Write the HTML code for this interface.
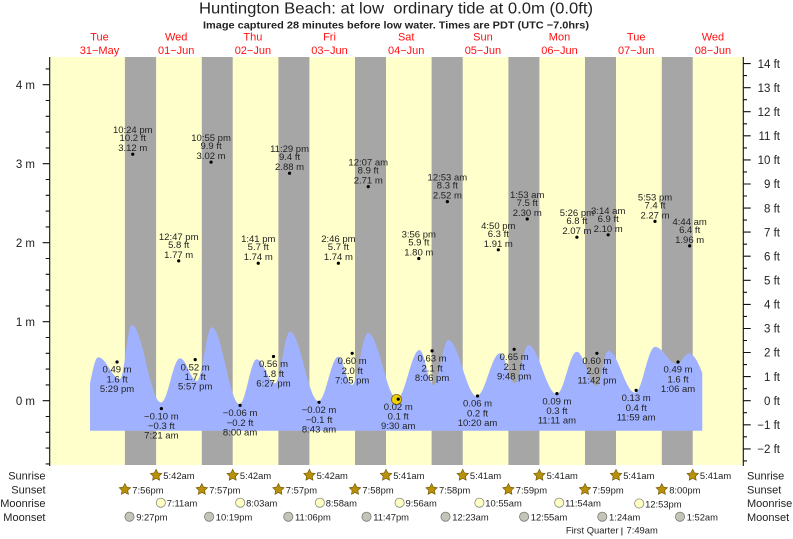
<!DOCTYPE html>
<html><head><meta charset="utf-8"><style>
html,body{margin:0;padding:0;background:#fff;}
svg{display:block;font-family:"Liberation Sans",Arial,sans-serif;}
.t{font-size:9.5px;fill:#222;text-anchor:middle;}
.b{font-size:9.4px;fill:#222;}
.r{font-size:11px;fill:#222;}
.ax{font-size:11.5px;fill:#222;}
.d{font-size:11px;fill:#ff1010;text-anchor:middle;}
</style></head><body>
<svg width="793" height="539" viewBox="0 0 793 539" xmlns="http://www.w3.org/2000/svg">
<defs>
<polygon id="star" points="0,-6 1.76,-2.43 5.71,-1.85 2.85,0.93 3.53,4.85 0,3 -3.53,4.85 -2.85,0.93 -5.71,-1.85 -1.76,-2.43" fill="#b8900a" stroke="#6b5200" stroke-width="0.6"/>
</defs>
<!-- titles -->
<text x="396" y="13.5" text-anchor="middle" font-size="16" fill="#222" textLength="394" lengthAdjust="spacingAndGlyphs" style="white-space:pre">Huntington Beach: at low  ordinary tide at 0.0m (0.0ft)</text>
<text x="396" y="28.5" text-anchor="middle" font-size="10.5" font-weight="bold" fill="#222" textLength="386" lengthAdjust="spacingAndGlyphs">Image captured 28 minutes before low water. Times are PDT (UTC −7.0hrs)</text>
<!-- day labels -->
<g class="d">
<text x="99.5" y="40.7" class="d">Tue</text><text x="99.5" y="54" class="d">31−May</text>
<text x="176.2" y="40.7" class="d">Wed</text><text x="176.2" y="54" class="d">01−Jun</text>
<text x="252.9" y="40.7" class="d">Thu</text><text x="252.9" y="54" class="d">02−Jun</text>
<text x="329.5" y="40.7" class="d">Fri</text><text x="329.5" y="54" class="d">03−Jun</text>
<text x="406.2" y="40.7" class="d">Sat</text><text x="406.2" y="54" class="d">04−Jun</text>
<text x="482.9" y="40.7" class="d">Sun</text><text x="482.9" y="54" class="d">05−Jun</text>
<text x="559.5" y="40.7" class="d">Mon</text><text x="559.5" y="54" class="d">06−Jun</text>
<text x="636.2" y="40.7" class="d">Tue</text><text x="636.2" y="54" class="d">07−Jun</text>
<text x="712.9" y="40.7" class="d">Wed</text><text x="712.9" y="54" class="d">08−Jun</text>
</g>
<!-- plot background -->
<rect x="50" y="57" width="693.3" height="408" fill="#ffffcc"/>
<g fill="#a6a6a6">
<rect x="124.9" y="57" width="31.2" height="408"/>
<rect x="201.8" y="57" width="30.9" height="408"/>
<rect x="278.4" y="57" width="31" height="408"/>
<rect x="355" y="57" width="31" height="408"/>
<rect x="431.6" y="57" width="31.1" height="408"/>
<rect x="508.4" y="57" width="31" height="408"/>
<rect x="585" y="57" width="31" height="408"/>
<rect x="661.8" y="57" width="30.9" height="408"/>
</g>
<!-- tide curve -->
<path fill="#a0b2ff" d="M90,430.7 L90,383.3 C93,370 95,357.3 98.3,357.3 C106.2,357.3 112.1,379 120,379 C124.3,379 127.4,325 131.7,325 C142.4,325 150.3,402.5 161,402.5 C167.9,402.5 173.1,358.3 180,358.3 C186.2,358.3 190.8,381 197,381 C202.4,381 206.4,327.3 211.7,327.3 C221.8,327.3 229.4,404 239.5,404 C245.8,404 250.4,359.3 256.7,359.3 C263.4,359.3 268.3,383.3 275,383.3 C280.5,383.3 284.5,331.7 290,331.7 C300.4,331.7 308.1,401 318.5,401 C325.7,401 331.1,356.7 338.3,356.7 C343.3,356.7 347,385 352,385 C357.8,385 362.2,333 368,333 C378.6,333 386.4,398.5 397,398.5 C405.2,398.5 411.3,350 419.5,350 C424.6,350 428.4,385 433.5,385 C438.9,385 442.9,340 448.3,340 C458.6,340 466.4,396 476.7,396 C485.2,396 491.5,353.3 500,353.3 C505.5,353.3 509.5,383.3 515,383.3 C519.8,383.3 523.5,345 528.3,345 C538.6,345 546.4,394 556.7,394 C564,394 569.4,351.7 576.7,351.7 C584,351.7 589.4,386 596.7,386 C600.9,386 604.1,350.7 608.3,350.7 C618,350.7 625.3,392.7 635,392.7 C642.3,392.7 647.7,346.7 655,346.7 C663,346.7 669,364 677,364 C681.4,364 684.6,353.3 689,353.3 C693,353.3 698.5,362 702.3,373.3 L702.3,430.7 Z"/>
<!-- current time marker -->
<circle cx="396.5" cy="399.5" r="5" fill="#f0d000" stroke="#7a6400" stroke-width="0.8"/>
<!-- axes -->
<g stroke="#111" stroke-width="1.1" fill="none">
<line x1="49.7" y1="57" x2="49.7" y2="466"/>
<line x1="743.3" y1="57" x2="743.3" y2="466"/>
<!-- left major -->
<path d="M42.7,400.7H49.7M42.7,321.7H49.7M42.7,242.7H49.7M42.7,163.7H49.7M42.7,84.7H49.7"/>
<!-- left minor -->
<path d="M45.7,463.9H49.7M45.7,448.1H49.7M45.7,432.3H49.7M45.7,416.5H49.7M45.7,384.9H49.7M45.7,369.1H49.7M45.7,353.3H49.7M45.7,337.5H49.7M45.7,305.9H49.7M45.7,290.1H49.7M45.7,274.3H49.7M45.7,258.5H49.7M45.7,226.9H49.7M45.7,211.1H49.7M45.7,195.3H49.7M45.7,179.5H49.7M45.7,147.9H49.7M45.7,132.1H49.7M45.7,116.3H49.7M45.7,100.5H49.7M45.7,68.9H49.7"/>
<!-- right major -->
<path d="M743.3,448.9H750.7M743.3,424.8H750.7M743.3,400.7H750.7M743.3,376.6H750.7M743.3,352.5H750.7M743.3,328.5H750.7M743.3,304.4H750.7M743.3,280.3H750.7M743.3,256.2H750.7M743.3,232.1H750.7M743.3,208.1H750.7M743.3,184H750.7M743.3,159.9H750.7M743.3,135.8H750.7M743.3,111.7H750.7M743.3,87.7H750.7M743.3,63.6H750.7"/>
<!-- right minor -->
<path d="M743.3,460.9H747M743.3,436.8H747M743.3,412.7H747M743.3,388.7H747M743.3,364.6H747M743.3,340.5H747M743.3,316.4H747M743.3,292.3H747M743.3,268.3H747M743.3,244.2H747M743.3,220.1H747M743.3,196H747M743.3,171.9H747M743.3,147.9H747M743.3,123.8H747M743.3,99.7H747M743.3,75.6H747"/>
</g>
<!-- left labels -->
<g class="ax" text-anchor="end">
<text x="35" y="405">0 m</text>
<text x="35" y="326">1 m</text>
<text x="35" y="247">2 m</text>
<text x="35" y="168">3 m</text>
<text x="35" y="89">4 m</text>
</g>
<!-- right labels -->
<g class="ax" text-anchor="end">
<text x="780" y="453.1">−2 ft</text>
<text x="780" y="429">−1 ft</text>
<text x="780" y="404.9">0 ft</text>
<text x="780" y="380.8">1 ft</text>
<text x="780" y="356.7">2 ft</text>
<text x="780" y="332.7">3 ft</text>
<text x="780" y="308.6">4 ft</text>
<text x="780" y="284.5">5 ft</text>
<text x="780" y="260.4">6 ft</text>
<text x="780" y="236.3">7 ft</text>
<text x="780" y="212.3">8 ft</text>
<text x="780" y="188.2">9 ft</text>
<text x="780" y="164.1">10 ft</text>
<text x="780" y="140">11 ft</text>
<text x="780" y="115.9">12 ft</text>
<text x="780" y="91.9">13 ft</text>
<text x="780" y="67.8">14 ft</text>
</g>
<!-- high labels -->
<g class="t">
<text x="132.75" y="133.2">10:24 pm</text><text x="132.75" y="141.2">10.2 ft</text><text x="132.75" y="151.2">3.12 m</text>
<text x="178.7" y="239.9">12:47 pm</text><text x="178.7" y="247.9">5.8 ft</text><text x="178.7" y="257.9">1.77 m</text>
<text x="211.07" y="141.1">10:55 pm</text><text x="211.07" y="149.1">9.9 ft</text><text x="211.07" y="159.1">3.02 m</text>
<text x="258.24" y="242.2">1:41 pm</text><text x="258.24" y="250.2">5.7 ft</text><text x="258.24" y="260.2">1.74 m</text>
<text x="289.54" y="152.2">11:29 pm</text><text x="289.54" y="160.2">9.4 ft</text><text x="289.54" y="170.2">2.88 m</text>
<text x="338.37" y="242.2">2:46 pm</text><text x="338.37" y="250.2">5.7 ft</text><text x="338.37" y="260.2">1.74 m</text>
<text x="368.24" y="165.6">12:07 am</text><text x="368.24" y="173.6">8.9 ft</text><text x="368.24" y="183.6">2.71 m</text>
<text x="418.77" y="237.5">3:56 pm</text><text x="418.77" y="245.5">5.9 ft</text><text x="418.77" y="255.5">1.80 m</text>
<text x="447.35" y="180.6">12:53 am</text><text x="447.35" y="188.6">8.3 ft</text><text x="447.35" y="198.6">2.52 m</text>
<text x="498.3" y="228.8">4:50 pm</text><text x="498.3" y="236.8">6.3 ft</text><text x="498.3" y="246.8">1.91 m</text>
<text x="527.22" y="198">1:53 am</text><text x="527.22" y="206">7.5 ft</text><text x="527.22" y="216">2.30 m</text>
<text x="576.89" y="216.2">5:26 pm</text><text x="576.89" y="224.2">6.8 ft</text><text x="576.89" y="234.2">2.07 m</text>
<text x="608.2" y="213.8">3:14 am</text><text x="608.2" y="221.8">6.9 ft</text><text x="608.2" y="231.8">2.10 m</text>
<text x="655" y="200.4">5:53 pm</text><text x="655" y="208.4">7.4 ft</text><text x="655" y="218.4">2.27 m</text>
<text x="689.65" y="224.9">4:44 am</text><text x="689.65" y="232.9">6.4 ft</text><text x="689.65" y="242.9">1.96 m</text>
</g>
<!-- low labels -->
<g class="t">
<text x="117.05" y="372.7">0.49 m</text><text x="117.05" y="382.5">1.6 ft</text><text x="117.05" y="392">5:29 pm</text>
<text x="161.35" y="419.3">−0.10 m</text><text x="161.35" y="429.1">−0.3 ft</text><text x="161.35" y="438.6">7:21 am</text>
<text x="195.21" y="370.3">0.52 m</text><text x="195.21" y="380.1">1.7 ft</text><text x="195.21" y="389.6">5:57 pm</text>
<text x="240.09" y="416.1">−0.06 m</text><text x="240.09" y="425.9">−0.2 ft</text><text x="240.09" y="435.4">8:00 am</text>
<text x="273.47" y="367.2">0.56 m</text><text x="273.47" y="377">1.8 ft</text><text x="273.47" y="386.5">6:27 pm</text>
<text x="319.04" y="413">−0.02 m</text><text x="319.04" y="422.8">−0.1 ft</text><text x="319.04" y="432.3">8:43 am</text>
<text x="352.16" y="364">0.60 m</text><text x="352.16" y="373.8">2.0 ft</text><text x="352.16" y="383.3">7:05 pm</text>
<text x="398.22" y="409.8">0.02 m</text><text x="398.22" y="419.6">0.1 ft</text><text x="398.22" y="429.1">9:30 am</text>
<text x="432.08" y="361.6">0.63 m</text><text x="432.08" y="371.4">2.1 ft</text><text x="432.08" y="380.9">8:06 pm</text>
<text x="477.54" y="406.7">0.06 m</text><text x="477.54" y="416.5">0.2 ft</text><text x="477.54" y="426">10:20 am</text>
<text x="514.17" y="360">0.65 m</text><text x="514.17" y="369.8">2.1 ft</text><text x="514.17" y="379.3">9:48 pm</text>
<text x="556.92" y="404.3">0.09 m</text><text x="556.92" y="414.1">0.3 ft</text><text x="556.92" y="423.6">11:11 am</text>
<text x="596.91" y="364">0.60 m</text><text x="596.91" y="373.8">2.0 ft</text><text x="596.91" y="383.3">11:42 pm</text>
<text x="636.15" y="401.1">0.13 m</text><text x="636.15" y="410.9">0.4 ft</text><text x="636.15" y="420.4">11:59 am</text>
<text x="678.04" y="372.7">0.49 m</text><text x="678.04" y="382.5">1.6 ft</text><text x="678.04" y="392">1:06 am</text>
</g>
<!-- dots -->
<g fill="#000">
<circle cx="132.75" cy="154.2" r="1.6"/><circle cx="178.7" cy="260.9" r="1.6"/><circle cx="211.07" cy="162.1" r="1.6"/>
<circle cx="258.24" cy="263.2" r="1.6"/><circle cx="289.54" cy="173.2" r="1.6"/><circle cx="338.37" cy="263.2" r="1.6"/>
<circle cx="368.24" cy="186.6" r="1.6"/><circle cx="418.77" cy="258.5" r="1.6"/><circle cx="447.35" cy="201.6" r="1.6"/>
<circle cx="498.3" cy="249.8" r="1.6"/><circle cx="527.22" cy="219" r="1.6"/><circle cx="576.89" cy="237.2" r="1.6"/>
<circle cx="608.2" cy="234.8" r="1.6"/><circle cx="655" cy="221.4" r="1.6"/><circle cx="689.65" cy="245.9" r="1.6"/>
<circle cx="117.05" cy="362" r="1.6"/><circle cx="161.35" cy="408.6" r="1.6"/><circle cx="195.21" cy="359.6" r="1.6"/>
<circle cx="240.09" cy="405.4" r="1.6"/><circle cx="273.47" cy="356.5" r="1.6"/><circle cx="319.04" cy="402.3" r="1.6"/>
<circle cx="352.16" cy="353.3" r="1.6"/><circle cx="398.22" cy="399.1" r="1.6"/><circle cx="432.08" cy="350.9" r="1.6"/>
<circle cx="477.54" cy="396" r="1.6"/><circle cx="514.17" cy="349.3" r="1.6"/><circle cx="556.92" cy="393.6" r="1.6"/>
<circle cx="596.91" cy="353.3" r="1.6"/><circle cx="636.15" cy="390.4" r="1.6"/><circle cx="678.04" cy="362" r="1.6"/>
</g>
<!-- bottom row labels -->
<g class="r" text-anchor="end">
<text x="45.5" y="479.3">Sunrise</text>
<text x="45.5" y="493.3">Sunset</text>
<text x="45.5" y="506.9">Moonrise</text>
<text x="45.5" y="520.8">Moonset</text>
</g>
<g class="r">
<text x="747" y="479.3">Sunrise</text>
<text x="747" y="493.3">Sunset</text>
<text x="747" y="506.9">Moonrise</text>
<text x="747" y="520.8">Moonset</text>
</g>
<!-- sunrise -->
<use href="#star" x="156.1" y="475.3"/><use href="#star" x="232.7" y="475.3"/><use href="#star" x="309.4" y="475.3"/>
<use href="#star" x="386" y="475.3"/><use href="#star" x="462.7" y="475.3"/><use href="#star" x="539.4" y="475.3"/>
<use href="#star" x="616" y="475.3"/><use href="#star" x="692.7" y="475.3"/>
<g class="b">
<text x="163.3" y="479">5:42am</text><text x="239.9" y="479">5:42am</text><text x="316.6" y="479">5:42am</text>
<text x="393.2" y="479">5:41am</text><text x="469.9" y="479">5:41am</text><text x="546.6" y="479">5:41am</text>
<text x="623.2" y="479">5:41am</text><text x="699.9" y="479">5:41am</text>
</g>
<!-- sunset -->
<use href="#star" x="124.9" y="489.5"/><use href="#star" x="201.8" y="489.5"/><use href="#star" x="278.4" y="489.5"/>
<use href="#star" x="355" y="489.5"/><use href="#star" x="431.6" y="489.5"/><use href="#star" x="508.4" y="489.5"/>
<use href="#star" x="585" y="489.5"/><use href="#star" x="661.8" y="489.5"/>
<g class="b">
<text x="132.3" y="493.3">7:56pm</text><text x="209.2" y="493.3">7:57pm</text><text x="285.8" y="493.3">7:57pm</text>
<text x="362.4" y="493.3">7:58pm</text><text x="439" y="493.3">7:58pm</text><text x="515.8" y="493.3">7:59pm</text>
<text x="592.4" y="493.3">7:59pm</text><text x="669.2" y="493.3">8:00pm</text>
</g>
<!-- moonrise -->
<g fill="#ffffc4" stroke="#8a8a80" stroke-width="0.8">
<circle cx="160.8" cy="502.7" r="4.6"/><circle cx="240.2" cy="502.7" r="4.6"/><circle cx="319.8" cy="502.7" r="4.6"/>
<circle cx="399.6" cy="502.7" r="4.6"/><circle cx="479.4" cy="502.7" r="4.6"/><circle cx="559.2" cy="502.7" r="4.6"/>
<circle cx="639.2" cy="503.5" r="4.6"/>
</g>
<g class="b">
<text x="166.7" y="506.7">7:11am</text><text x="246.1" y="506.7">8:03am</text><text x="325.7" y="506.7">8:58am</text>
<text x="405.5" y="506.7">9:56am</text><text x="485.3" y="506.7">10:55am</text><text x="565.1" y="506.7">11:54am</text>
<text x="645.1" y="507.6">12:53pm</text>
</g>
<!-- moonset -->
<g fill="#c4c4b8" stroke="#7a7a72" stroke-width="0.8">
<circle cx="129.5" cy="516.7" r="4.6"/><circle cx="209.1" cy="516.7" r="4.6"/><circle cx="288.3" cy="516.7" r="4.6"/>
<circle cx="366.5" cy="516.7" r="4.6"/><circle cx="445.5" cy="516.7" r="4.6"/><circle cx="524.1" cy="516.7" r="4.6"/>
<circle cx="602.3" cy="516.7" r="4.6"/><circle cx="680" cy="516.7" r="4.6"/>
</g>
<g class="b">
<text x="136.2" y="520.7">9:27pm</text><text x="215.8" y="520.7">10:19pm</text><text x="295" y="520.7">11:06pm</text>
<text x="373.2" y="520.7">11:47pm</text><text x="452.2" y="520.7">12:23am</text><text x="530.8" y="520.7">12:55am</text>
<text x="609" y="520.7">1:24am</text><text x="686.7" y="520.7">1:52am</text>
</g>
<!-- moon phase -->
<text class="b" x="618.5" y="533.3" text-anchor="end">First Quarter</text>
<line x1="621.9" y1="527.5" x2="621.9" y2="535.5" stroke="#222" stroke-width="0.9"/>
<text class="b" x="626.5" y="533.3">7:49am</text>
</svg>
</body></html>
